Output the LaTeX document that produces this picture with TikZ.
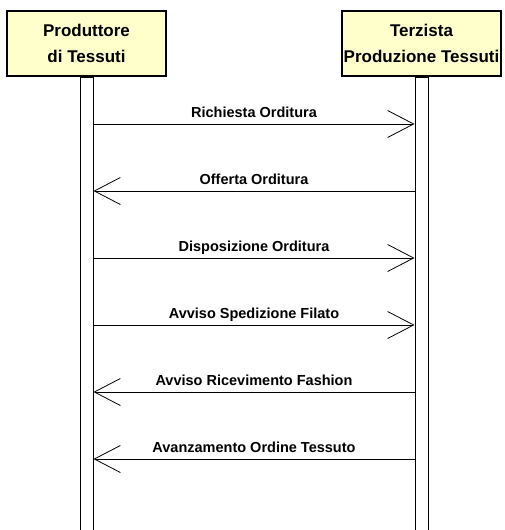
\documentclass[tikz,border=0pt]{standalone}
\usepackage{fontspec}
\setmainfont{Liberation Sans}
\usetikzlibrary{arrows.meta,positioning}
\definecolor{actorfill}{RGB}{255,255,204}

\begin{document}
\begin{tikzpicture} [x=1pt, y=-1pt,
    actor/.style={draw,%
      line width=2pt,%
      fill=actorfill,%
      minimum width=159pt,%
      minimum height=65pt,%
      inner sep=0,%
      align=center,%
      font=\fontsize{17}{26}\selectfont\bfseries},
    life/.style={draw,
      line width=1pt,
      fill=white,
      minimum width=13pt,
      minimum height=470pt},
    msg/.style={line width=0.8pt,
      -{Straight Barb[length=26pt,width=27pt]}},
    lbl/.style={anchor=base,
      yshift=7pt,
      font=\fontsize{14.5}{17}\selectfont\bfseries}
    ]
    \useasboundingbox (0,0) rectangle (504,530);
    \node[actor] (prod) at (86.5,43.5) {Produttore\\di Tessuti};
    \node[actor] (terz) at (421.5,43.5) {Terzista\\Produzione Tessuti};
    \node[life, below=0pt of prod] (lp) {};
    \node[life, below=0pt of terz] (rp) {};
    \coordinate (lx) at (lp.east);
    \coordinate (rx) at (rp.west);
    \foreach \y/\from/\to/\txt in {124/lx/rx/Richiesta Orditura,
        191/rx/lx/Offerta Orditura,
        258/lx/rx/Disposizione Orditura,
        325/lx/rx/Avviso Spedizione Filato,
        392/rx/lx/Avviso Ricevimento Fashion,
        459/rx/lx/Avanzamento Ordine Tessuto}
      \draw[msg] (\from |- 0,\y) -- (\to |- 0,\y) node[lbl, midway] {\txt};
  \end{tikzpicture}
\end{document}
